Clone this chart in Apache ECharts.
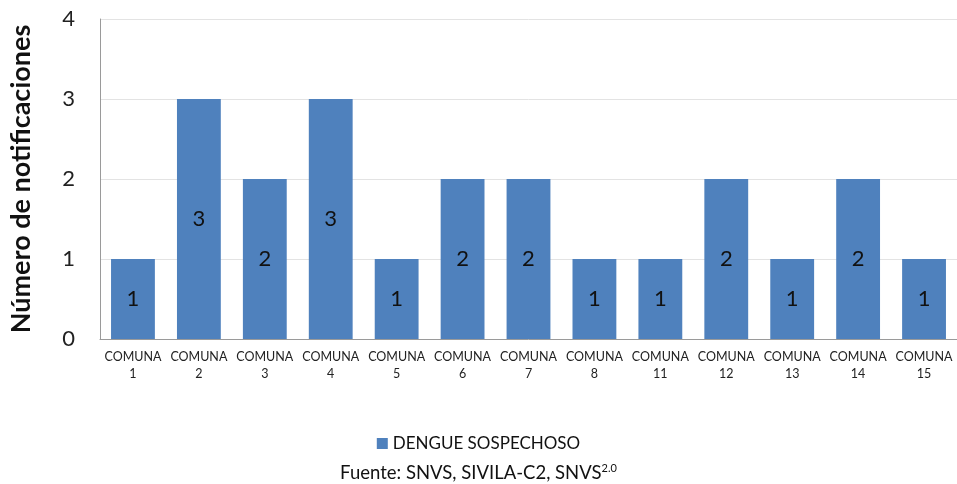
<!DOCTYPE html>
<html><head><meta charset="utf-8">
<script src="https://cdn.jsdelivr.net/npm/echarts@6/dist/echarts.min.js"></script>
<style>html,body{margin:0;padding:0;background:#fff}#c{width:957px;height:484px}</style>
</head><body><div id="c"></div>
<script>
const categories = ['COMUNA\n1','COMUNA\n2','COMUNA\n3','COMUNA\n4','COMUNA\n5','COMUNA\n6','COMUNA\n7','COMUNA\n8','COMUNA\n11','COMUNA\n12','COMUNA\n13','COMUNA\n14','COMUNA\n15'];
const values = [1,3,2,3,1,2,2,1,1,2,1,2,1];
const seriesName = 'DENGUE SOSPECHOSO';
const yTicks = [0,1,2,3,4];
const F = 'Lato, "Open Sans", sans-serif';
const chart = echarts.init(document.getElementById('c'));
chart.setOption({
  animation:false,
  title:{
    text:'Fuente: SNVS, SIVILA-C2, SNVS{s|2.0}',
    left:'center', top:458,
    textStyle:{fontFamily:F,fontSize:18.5,fontWeight:'normal',color:'#111',
      rich:{s:{fontFamily:F,fontSize:11,verticalAlign:'top',padding:[0,0,9,0],color:'#111'}}}
  },
  legend:{
    data:[seriesName], top:430, left:'center',
    itemWidth:11, itemHeight:11, icon:'rect', itemGap:6,
    textStyle:{fontFamily:F,fontSize:17,color:'#111'}
  },
  grid:{left:95,right:0,top:19,bottom:145,containLabel:false},
  xAxis:{
    type:'category', data:categories,
    axisLine:{lineStyle:{color:'#9a9a9a'}},
    axisTick:{show:false},
    axisLabel:{interval:0,fontFamily:F,fontSize:12.5,color:'#222',lineHeight:17,margin:9}
  },
  yAxis:{
    type:'value', min:yTicks[0], max:yTicks[yTicks.length-1], interval:1,
    name:'Número de notificaciones', nameLocation:'middle', nameGap:65,
    nameTextStyle:{fontFamily:F,fontSize:27,fontWeight:'bold',color:'#111'},
    axisLine:{show:true,lineStyle:{color:'#9a9a9a'}},
    axisTick:{show:false},
    axisLabel:{fontFamily:F,fontSize:22,color:'#222',margin:25},
    splitLine:{lineStyle:{color:'#e3e3e3'}}
  },
  series:[{
    name:seriesName, type:'bar', data:values, barWidth:'66.5%',
    itemStyle:{color:'#4F81BD'},
    label:{show:true,position:'inside',fontFamily:F,fontSize:22,color:'#111'}
  }]
});
</script></body></html>
